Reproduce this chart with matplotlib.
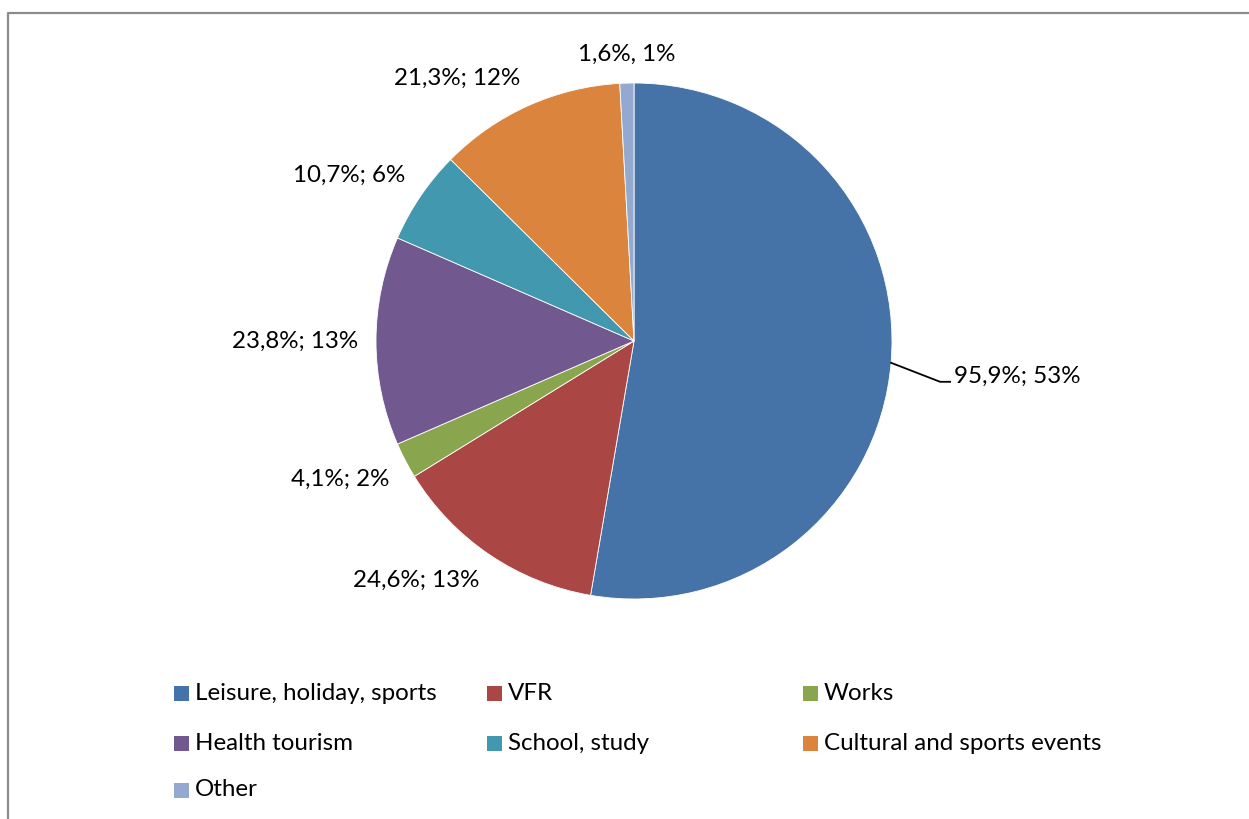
import numpy as np
import matplotlib.pyplot as plt
from matplotlib.patches import Rectangle
from matplotlib.lines import Line2D

# travel purpose data
categories = ['Leisure, holiday, sports', 'VFR', 'Works', 'Health tourism',
              'School, study', 'Cultural and sports events', 'Other']
values = [95.9, 24.6, 4.1, 23.8, 10.7, 21.3, 1.6]
labels = ['95,9%; 53%', '24,6%; 13%', '4,1%; 2%', '23,8%; 13%',
          '10,7%; 6%', '21,3%; 12%', '1,6%, 1%']
colors = ['#4572A7', '#AA4643', '#89A54E', '#71588F', '#4198AF', '#DB843D', '#93A9CF']

plt.rcParams['font.family'] = ['Lato', 'DejaVu Sans']
fs = 17.4

W, H = 1249, 819
fig = plt.figure(figsize=(W / 100, H / 100), dpi=100)
ax = fig.add_axes([0, 0, 1, 1])

# pie center / radius in pixels
cx, cy, R = 634, 341, 258

wedges, _ = ax.pie(values, colors=colors, startangle=90, counterclock=False,
                   radius=1, wedgeprops=dict(edgecolor='white', linewidth=0.6))
ax.set_xlim(-cx / R, (W - cx) / R)
ax.set_ylim(-(H - cy) / R, cy / R)
ax.set_aspect('auto')
ax.axis('off')

# data labels, outside end
for i, w in enumerate(wedges):
    ang = np.deg2rad((w.theta1 + w.theta2) / 2)
    c, s = np.cos(ang), np.sin(ang)
    if i == 0:
        # leader line for the big slice
        x0, y0 = c, s
        x1, y1 = x0 + 49 / R, y0 - 19 / R
        x2 = x1 + 10 / R
        ax.plot([x0, x1, x2], [y0, y1, y1], color='black', lw=1.3)
        ax.text(x2 + 4 / R, y1 + 5 / R, labels[i], ha='left', va='center', fontsize=fs)
        continue
    ha = 'left' if c > 0.1 else ('right' if c < -0.1 else 'center')
    va = 'bottom' if s > 0.3 else ('top' if s < -0.3 else 'center')
    rr = 1.07
    ax.text(rr * c, rr * s, labels[i], ha=ha, va=va, fontsize=fs)

# legend, three equal columns
col_x = [174, 487, 803]
row_y = [693, 743, 790]
sq = 15
for i, name in enumerate(categories):
    x = col_x[i % 3]
    y = row_y[i // 3]
    fig.patches.append(Rectangle((x / W, 1 - (y + sq / 2) / H), sq / W, sq / H,
                                 transform=fig.transFigure, facecolor=colors[i],
                                 edgecolor='none'))
    fig.text((x + 21) / W, 1 - y / H, name, ha='left', va='center', fontsize=fs)

# chart border (top and left only visible)
fig.lines.append(Line2D([8 / W, 8 / W, 1], [0, 1 - 13 / H, 1 - 13 / H],
                        transform=fig.transFigure, color='#8c8c8c', lw=1.6))

fig.savefig('out.png', dpi=100)
